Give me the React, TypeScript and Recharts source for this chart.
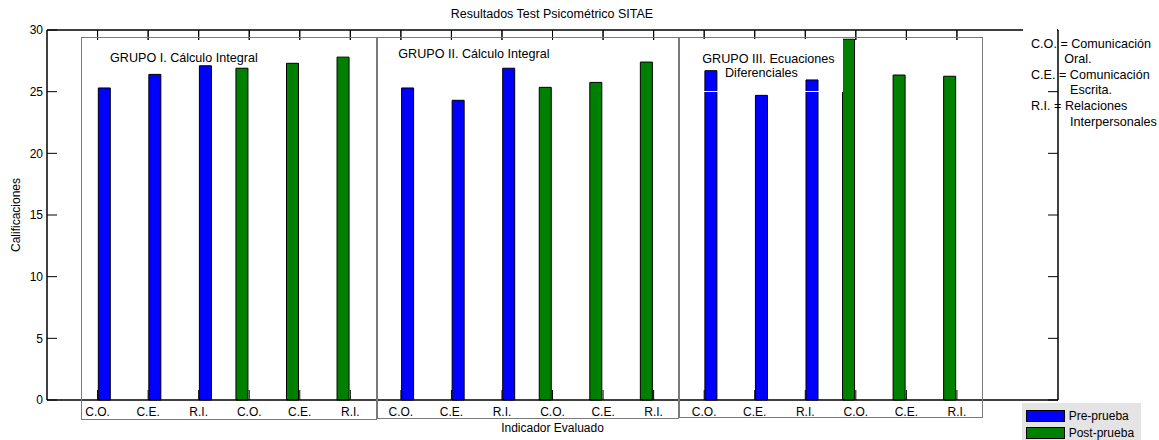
import { Bar, BarChart, Legend, Line, ReferenceLine, XAxis, YAxis } from "recharts";

// etiquetas del eje x (3 grupos x pre/post x 3 indicadores)
const indicadores = [
  "C.O.", "C.E.", "R.I.", "C.O.", "C.E.", "R.I.",
  "C.O.", "C.E.", "R.I.", "C.O.", "C.E.", "R.I.",
  "C.O.", "C.E.", "R.I.", "C.O.", "C.E.", "R.I.",
];

const preprueba = [
  25.3, 26.4, 27.1, null, null, null,
  25.3, 24.3, 26.9, null, null, null,
  26.7, 24.7, 25.95, null, null, null,
];

const postprueba = [
  null, null, null, 26.9, 27.3, 27.8,
  null, null, null, 25.35, 25.75, 27.4,
  null, null, null, 29.25, 26.35, 26.25,
];

const yTicks = [0, 5, 10, 15, 20, 25, 30];

const titulo = "Resultados Test Psicométrico SITAE";
const grupos = ["GRUPO I. Cálculo Integral", "GRUPO II. Cálculo Integral", "GRUPO III. Ecuaciones", "Diferenciales"];
const notas = ["C.O. = Comunicación", "Oral.", "C.E. = Comunicación", "Escrita.", "R.I. = Relaciones", "Interpersonales"];

const data = indicadores.map((ind, i) => ({
  pos: i,
  ind,
  pre: preprueba[i],
  post: postprueba[i],
}));

const FONT = "'Liberation Sans', Arial, sans-serif";
const PAD = { left: 25.3, right: 75.8 };

function TituloY({ viewBox }: any) {
  const cy = viewBox ? viewBox.y + viewBox.height / 2 : 215;
  return (
    <text
      x={16}
      y={cy}
      transform={`rotate(-90 16 ${cy})`}
      textAnchor="middle"
      dominantBaseline="central"
      fontSize={12}
      fill="#000"
    >
      Calificaciones
    </text>
  );
}

function TickIzq({ x, y, payload }: any) {
  return (
    <text x={x} y={y} dy="0.355em" textAnchor="end" fontSize={12} fill="#000">
      {payload.value}
    </text>
  );
}

// marcas hacia dentro del marco (izquierda y arriba)
const marcaIzq = (p: any) => {
  const x = Math.min(Number(p.x1), Number(p.x2));
  return <line x1={x} x2={x + 10} y1={p.y1} y2={p.y1} stroke="#000" strokeWidth={1} />;
};
const marcaSup = (p: any) => {
  const y = Math.min(Number(p.y1), Number(p.y2));
  return <line x1={p.x1} x2={p.x1} y1={y} y2={y + 10} stroke="#000" strokeWidth={1} />;
};

function Leyenda({ payload }: any) {
  const items = [...(payload ?? [])].filter((it: any) => it.type !== "none").reverse();
  return (
    <div style={{ background: "#e4e4e4", width: 119, height: 40, paddingTop: 4, boxSizing: "border-box", fontFamily: FONT }}>
      {items.map((it: any) => (
        <div key={it.value} style={{ display: "flex", alignItems: "center", height: 17, marginLeft: 4 }}>
          <span style={{ display: "inline-block", width: 37, height: 10, background: it.color, border: "1px solid #000" }} />
          <span style={{ marginLeft: 4, fontSize: 12, color: "#000" }}>{it.value}</span>
        </div>
      ))}
    </div>
  );
}

const abs = (left: number, top: number, extra: any = {}) => ({
  position: "absolute" as const,
  left,
  top,
  fontSize: 12.6,
  lineHeight: "14px",
  color: "#000",
  whiteSpace: "pre" as const,
  ...extra,
});

const caja = (left: number, top: number, right: number, bottom: number) => ({
  position: "absolute" as const,
  left,
  top,
  width: right - left,
  height: bottom - top,
  border: "1.5px solid #7a7a7a",
  boxSizing: "border-box" as const,
});

const sinTexto = () => "";

export default function App() {
  return (
    <div style={{ position: "absolute", left: 0, top: 0, width: 1159, height: 440, overflow: "hidden", background: "#fff", fontFamily: FONT }}>
      <BarChart
        width={1159}
        height={440}
        data={data}
        margin={{ top: 30, right: 100, bottom: 0, left: 7 }}
        barGap={2}
        style={{ fontFamily: FONT }}
      >
        <XAxis
          dataKey="pos"
          height={40}
          interval={0}
          padding={PAD}
          tickFormatter={(i: number) => indicadores[i]}
          tickSize={-10}
          tickMargin={17}
          tick={{ fill: "#000", fontSize: 12 }}
          tickLine={{ stroke: "#000" }}
          axisLine={{ stroke: "#000", strokeWidth: 1.5 }}
          label={{ value: "Indicador Evaluado", position: "insideBottom", offset: 8.5, fill: "#000", fontSize: 12 }}
        />
        <XAxis
          xAxisId="top"
          orientation="top"
          mirror
          dataKey="pos"
          height={10}
          interval={0}
          padding={PAD}
          tickFormatter={sinTexto}
          tickSize={10}
          tickLine={{ stroke: "#000" }}
          axisLine={{ stroke: "#000", strokeWidth: 1.5 }}
        />
        <YAxis
          width={40}
          domain={[0, 30]}
          ticks={yTicks}
          interval={0}
          tickSize={0}
          tickMargin={4}
          tick={<TickIzq />}
          tickLine={false}
          axisLine={{ stroke: "#000", strokeWidth: 1.5 }}
          label={<TituloY />}
        />
        <YAxis
          yAxisId="right"
          orientation="right"
          width={1}
          domain={[0, 30]}
          ticks={yTicks}
          interval={0}
          tickFormatter={sinTexto}
          tickSize={-10}
          tickLine={{ stroke: "#000" }}
          axisLine={{ stroke: "#000", strokeWidth: 1.5 }}
        />
        <Legend
          layout="horizontal"
          verticalAlign="middle"
          align="center"
          wrapperStyle={{ left: 1021.7, top: 403.3, width: 119, height: 40 }}
          content={<Leyenda />}
        />
        {yTicks.map((v) => (
          <ReferenceLine key={`y${v}`} y={v} stroke="none" shape={marcaIzq} />
        ))}
        {data.map((d) => (
          <ReferenceLine key={`x${d.pos}`} x={d.pos} stroke="none" shape={marcaSup} />
        ))}
        <Bar dataKey="post" name="Post-prueba" fill="#008000" stroke="#000" strokeWidth={1} barSize={12} isAnimationActive={false} />
        <Bar dataKey="pre" name="Pre-prueba" fill="#0000ff" stroke="#000" strokeWidth={1} barSize={12} isAnimationActive={false} />
        {/* serie invisible ligada a los ejes auxiliares del marco */}
        <Line xAxisId="top" yAxisId="right" dataKey="pre" stroke="none" dot={false} activeDot={false} legendType="none" isAnimationActive={false} />
      </BarChart>

      <div style={{ position: "absolute", left: 0, top: 0, width: 1159, height: 440, pointerEvents: "none" }}>
        <div style={abs(352, 7.4, { width: 400, textAlign: "center", fontSize: 12.5 })}>{titulo}</div>

        {/* borde blanco del cuadro de texto del grupo III */}
        <div style={{ position: "absolute", left: 692, top: 38.5, width: 151, height: 53, border: "1px solid #fff", boxSizing: "border-box" }} />

        <div style={caja(80.5, 36.7, 376.5, 419.8)} />
        <div style={caja(377, 36.7, 678.5, 418.8)} />
        <div style={caja(679.3, 36.7, 983.5, 417.8)} />

        <div style={abs(110, 50.6)}>{grupos[0]}</div>
        <div style={abs(398.3, 47.2)}>{grupos[1]}</div>
        <div style={abs(702.3, 51.6)}>{grupos[2]}</div>
        <div style={abs(725, 66.2)}>{grupos[3]}</div>

        {/* cuadro de notas a la derecha */}
        <div style={{ position: "absolute", left: 1023, top: 27, width: 34, height: 6, background: "#fff" }} />
        <div style={abs(1031, 37.3)}>{notas[0]}</div>
        <div style={abs(1064.3, 52.3)}>{notas[1]}</div>
        <div style={abs(1031, 68.3)}>{notas[2]}</div>
        <div style={abs(1070, 83.3)}>{notas[3]}</div>
        <div style={abs(1031, 99)}>{notas[4]}</div>
        <div style={abs(1070, 115)}>{notas[5]}</div>
      </div>
    </div>
  );
}
